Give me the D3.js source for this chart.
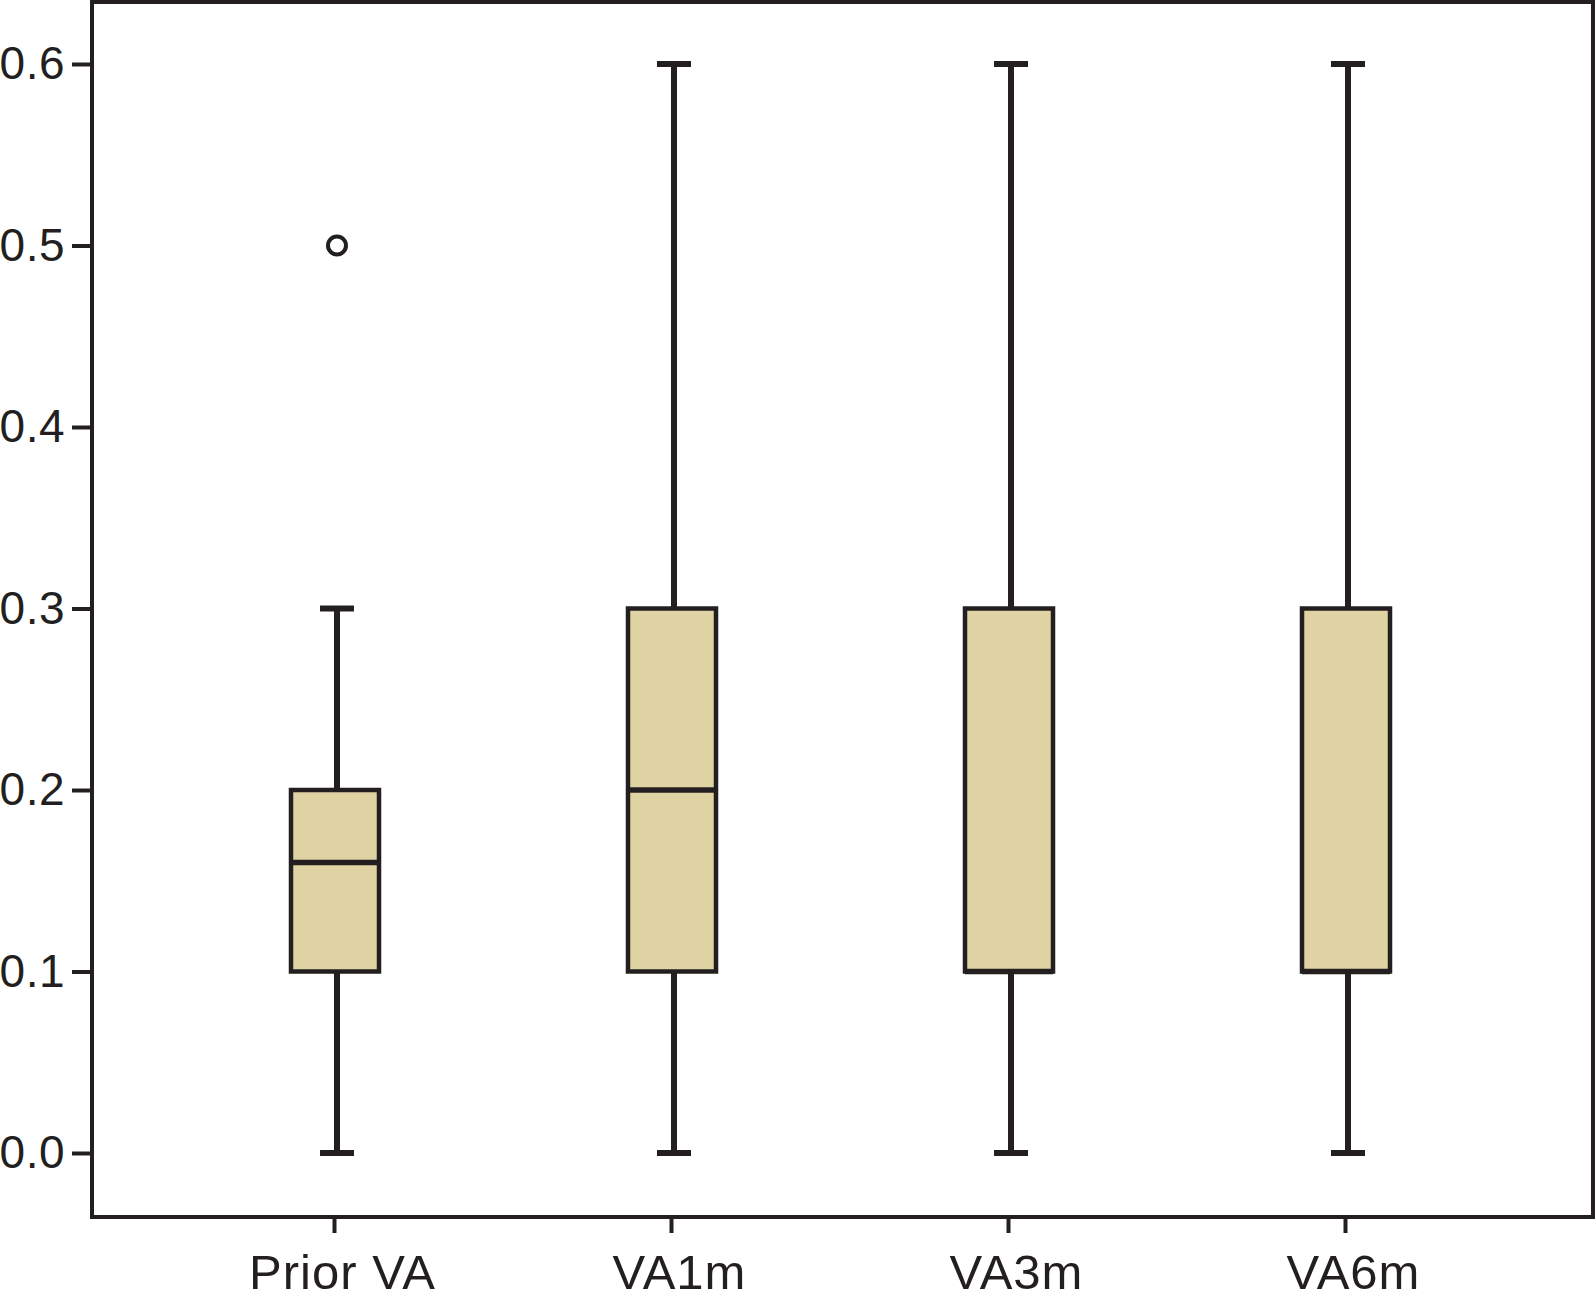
<!DOCTYPE html>
<html>
<head>
<meta charset="utf-8">
<script src="https://cdn.jsdelivr.net/npm/d3@7"></script>
<style>
  body { margin: 0; background: #fff; }
  svg { display: block; }
  .tick text { font-family: "Liberation Sans", Arial, sans-serif; fill: #231f20; }
</style>
</head>
<body>
<div class="canvas"></div>
<script>
// visits and their box summaries
const categories = ['Prior VA', 'VA1m', 'VA3m', 'VA6m'];
const whiskerLow = [0.0, 0.0, 0.0, 0.0];
const q1 = [0.1, 0.1, 0.1, 0.1];
const median = [0.16, 0.2, 0.1, 0.1];
const q3 = [0.2, 0.3, 0.3, 0.3];
const whiskerHigh = [0.3, 0.6, 0.6, 0.6];
const outliers = [{ cat: 'Prior VA', value: 0.5 }];
const yTicks = [0.0, 0.1, 0.2, 0.3, 0.4, 0.5, 0.6];

const boxes = categories.map((c, i) => ({
  cat: c, lo: whiskerLow[i], q1: q1[i], med: median[i], q3: q3[i], hi: whiskerHigh[i]
}));

const width = 1596, height = 1311;
const frame = { left: 92, right: 1593, top: 2, bottom: 1217 };
const ink = '#231f20';
const fill = '#dfd3a3';

const svg = d3.select('.canvas')
  .append('svg')
  .attr('width', width)
  .attr('height', height);

const x = d3.scalePoint()
  .domain(categories)
  .range([frame.left, frame.right])
  .padding(0.727);

const y = d3.scaleLinear()
  .domain([0, 0.6])
  .range([1153, 64]);

// y axis
const yAxis = svg.append('g')
  .attr('transform', `translate(${frame.left},0)`)
  .call(d3.axisLeft(y).tickValues(yTicks).tickFormat(d3.format('.1f')).tickSize(20).tickPadding(7));
yAxis.select('.domain').remove();
yAxis.selectAll('.tick line').attr('stroke', ink).attr('stroke-width', 4);
yAxis.selectAll('.tick text').attr('font-size', 46).attr('letter-spacing', 0.5);

// x axis
const xAxis = svg.append('g')
  .attr('transform', `translate(0,${frame.bottom})`)
  .call(d3.axisBottom(x).tickSize(16).tickPadding(21));
xAxis.select('.domain').remove();
xAxis.selectAll('.tick line').attr('stroke', ink).attr('stroke-width', 4).attr('x1', -3).attr('x2', -3);
xAxis.selectAll('.tick text')
  .attr('font-size', 49)
  .attr('letter-spacing', 1)
  .attr('x', 5);

const boxW = 88;
const capW = 34;

const g = svg.append('g');

const box = g.selectAll('.box')
  .data(boxes)
  .join('g')
  .attr('class', 'box');

// whiskers
box.append('line')
  .attr('x1', d => x(d.cat)).attr('x2', d => x(d.cat))
  .attr('y1', d => y(d.hi)).attr('y2', d => y(d.lo))
  .attr('stroke', ink).attr('stroke-width', 6);

box.selectAll('.cap')
  .data(d => [d.lo, d.hi].map(v => ({ cat: d.cat, v })))
  .join('line')
  .attr('class', 'cap')
  .attr('x1', d => x(d.cat) - capW / 2).attr('x2', d => x(d.cat) + capW / 2)
  .attr('y1', d => y(d.v)).attr('y2', d => y(d.v))
  .attr('stroke', ink).attr('stroke-width', 6);

box.append('rect')
  .attr('x', d => x(d.cat) - boxW / 2 - 2)
  .attr('width', boxW)
  .attr('y', d => y(d.q3))
  .attr('height', d => y(d.q1) - y(d.q3))
  .attr('fill', fill)
  .attr('stroke', ink)
  .attr('stroke-width', 4.5);

box.append('line')
  .attr('x1', d => x(d.cat) - boxW / 2 - 2).attr('x2', d => x(d.cat) + boxW / 2 - 2)
  .attr('y1', d => y(d.med)).attr('y2', d => y(d.med))
  .attr('stroke', ink).attr('stroke-width', 5.5);

g.selectAll('.outlier')
  .data(outliers)
  .join('circle')
  .attr('class', 'outlier')
  .attr('cx', d => x(d.cat))
  .attr('cy', d => y(d.value))
  .attr('r', 9)
  .attr('fill', 'none')
  .attr('stroke', ink)
  .attr('stroke-width', 4);

// frame
svg.append('rect')
  .attr('x', frame.left)
  .attr('y', frame.top)
  .attr('width', frame.right - frame.left)
  .attr('height', frame.bottom - frame.top)
  .attr('fill', 'none')
  .attr('stroke', ink)
  .attr('stroke-width', 4);
</script>
</body>
</html>
